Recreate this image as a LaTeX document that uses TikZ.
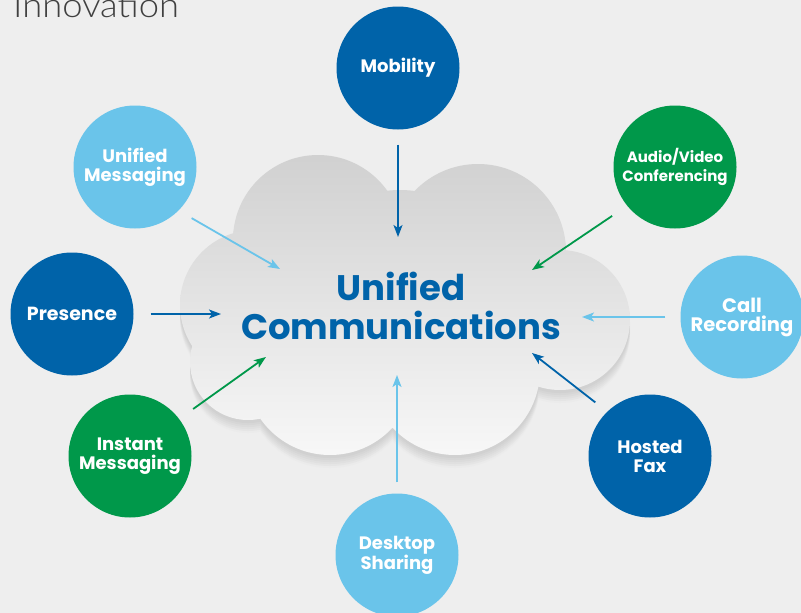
\documentclass[tikz,border=0pt]{standalone}
\usepackage{fontspec}
\setmainfont{Poppins}
\newfontfamily\thinfont[FakeStretch=1.07]{Lato Light}
\usetikzlibrary{arrows.meta}
\definecolor{ucdark}{HTML}{0063A9}
\definecolor{uclight}{HTML}{6AC4EA}
\definecolor{ucgreen}{HTML}{00984A}
\definecolor{ucback}{HTML}{EEEEEE}
\definecolor{cloudtop}{HTML}{D0D0D0}
\definecolor{cloudbot}{HTML}{F8F8F8}

\begin{document}
\begin{tikzpicture}[x=1pt, y=-1pt,
		topic/.style={circle, minimum size=123pt, inner sep=0pt, align=center, text=white, font=\bfseries\fontsize{18}{19}\selectfont},
		link/.style={line width=1.8pt, -{Stealth[length=12pt, width=9pt, inset=3pt]}}]
	\useasboundingbox (0,0) rectangle (801,613);
	\fill[ucback] (0,0) rectangle (801,613);
	\node[anchor=base west, inner sep=0pt, text=black!75, font=\thinfont\fontsize{34}{34}\selectfont] (title) at (13,17) {Innovation};

	% cloud: soft shadow, then face
	\foreach \dy/\pct in {13/8, 11/10, 9/12, 7/14, 5/16, 3/18}
		\fill[black!\pct] \foreach \cx/\cy/\r in {318/240/85, 478/252/88, 560/320/70, 255/305/75, 248/362/58, 330/370/85, 455/370/85, 400/300/110} {(\cx,\cy+\dy) circle (\r pt)};
	\begin{scope}
		\clip \foreach \cx/\cy/\r in {318/240/85, 478/252/88, 560/320/70, 255/305/75, 248/362/58, 330/370/85, 455/370/85, 400/300/110} {(\cx,\cy) circle (\r pt)};
		\shade[top color=cloudtop, bottom color=cloudbot] (170,150) rectangle (640,460);
	\end{scope}

	\node[text=ucdark, align=center, font=\bfseries\fontsize{35.5}{38.5}\selectfont] (uc) at (401,306) {Unified\\Communications};

	\node[topic, fill=ucdark] (mob) at (398,68) {Mobility};
	\node[topic, fill=uclight] (um) at (135,167) {Unified\\Messaging};
	\node[topic, fill=ucgreen, font=\bfseries\fontsize{15}{19}\selectfont] (av) at (675,167) {Audio/Video\\Conferencing};
	\node[topic, fill=uclight, font=\bfseries\fontsize{19.5}{19}\selectfont] (cr) at (742,317) {Call\\Recording};
	\node[topic, fill=ucdark, font=\bfseries\fontsize{19}{19}\selectfont] (pres) at (72,314) {Presence};
	\node[topic, fill=ucgreen] (im) at (130,456) {Instant\\Messaging};
	\node[topic, fill=ucdark] (fax) at (650,456) {Hosted\\Fax};
	\node[topic, fill=uclight] (ds) at (397,555) {Desktop\\Sharing};

	\coordinate (tmob) at (398,237);
	\coordinate (tum) at (280,269);
	\coordinate (tav) at (532,270);
	\coordinate (tcr) at (582,317);
	\coordinate (tpres) at (221,314);
	\coordinate (tim) at (266,357);
	\coordinate (tfax) at (532,353);
	\coordinate (tds) at (397,375);

	\draw[link, ucdark, shorten <=15pt] (mob) -- (tmob);
	\draw[link, uclight, shorten <=15pt] (um.-45) -- (tum);
	\draw[link, ucgreen, shorten <=18pt] (av.219) -- (tav);
	\draw[link, uclight, shorten <=15pt] (cr.180) -- (tcr);
	\draw[link, ucdark, shorten <=17pt] (pres.0) -- (tpres);
	\draw[link, ucgreen, shorten <=17pt] (im.37) -- (tim);
	\draw[link, ucdark, shorten <=15pt] (fax.134) -- (tfax);
	\draw[link, uclight, shorten <=11pt] (ds) -- (tds);
\end{tikzpicture}
\end{document}
